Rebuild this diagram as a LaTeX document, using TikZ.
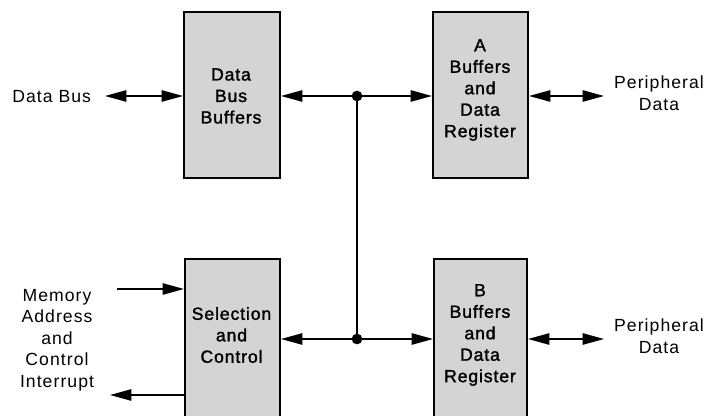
\documentclass[tikz,border=0pt]{standalone}
\usepackage{fontspec}
\setmainfont{Liberation Sans}[LetterSpace=6]
\newfontfamily\boxfont{Liberation Sans}[LetterSpace=5,FakeBold=1.6]
\usetikzlibrary{arrows.meta}
\begin{document}
\begin{tikzpicture}[x=0.75pt,y=-0.75pt,
  blk/.style={draw=black,line width=1.5pt,fill=black!17,minimum height=129pt,inner sep=0pt,anchor=north west},
  txt/.style={align=center,font=\fontsize{13.2}{16.1}\selectfont,inner sep=0pt},
  btxt/.style={txt,font=\fontsize{13.2}{16.1}\boxfont},
  ln/.style={line width=1.1pt},
  jd/.style={circle,fill=black,inner sep=0pt,minimum size=8pt}]
\tikzset{tp/.tip={Triangle[length=16pt,width=8.5pt]}}
\path[use as bounding box] (0,0) rectangle (721,416);
% boxes
\node[blk,minimum width=72pt,minimum height=124.5pt] (dbb) at (183,11) {};
\node[blk,minimum width=71.25pt,minimum height=124.5pt] (A) at (432,11) {};
\node[blk,minimum width=71.25pt] (sel) at (184,258) {};
\node[blk,minimum width=69.75pt] (B) at (433,258) {};
% box texts
\node[btxt] (dbbt) at (231,96) {Data\\Bus\\Buffers};
\node[btxt] (At) at (480,90) {A\\Buffers\\and\\Data\\Register};
\node[btxt] (selt) at (231.5,335) {Selection\\and\\Control};
\node[btxt] (Bt) at (480,335) {B\\Buffers\\and\\Data\\Register};
% outer texts
\node[txt,anchor=west] (db) at (12,97) {Data Bus};
\node[txt] (pa) at (659,93) {Peripheral\\Data};
\node[txt] (pb) at (659,336) {Peripheral\\Data};
\node[txt] (mem) at (57,340) {Memory\\Address\\and\\Control\\Interrupt};
% junctions
\node[jd] (j1) at (357,96) {};
\node[jd] (j2) at (357,339) {};
\coordinate (dbL) at (105,96);
\coordinate (paR) at (604,96);
\coordinate (pbR) at (604,339);
\coordinate (mi) at (117,289);
\coordinate (io) at (110,395);
% connectors
\draw[ln,tp-tp] (dbL) -- (dbb.west|-dbL);
\draw[ln,tp-] (dbb.east|-j1) -- (j1.center);
\draw[ln,-tp] (j1.center) -- (A.west|-j1);
\draw[ln] (j1.center) -- (j2.center);
\draw[ln,-tp] (j2.center) -- (sel.east|-j2);
\draw[ln,-tp] (j2.center) -- (B.west|-j2);
\draw[ln,tp-tp] (A.east|-j1) -- (paR);
\draw[ln,tp-tp] (B.east|-j2) -- (pbR);
\draw[ln,-tp] (mi) -- (sel.west|-mi);
\draw[ln,-tp] (sel.west|-io) -- (io);
\end{tikzpicture}
\end{document}
